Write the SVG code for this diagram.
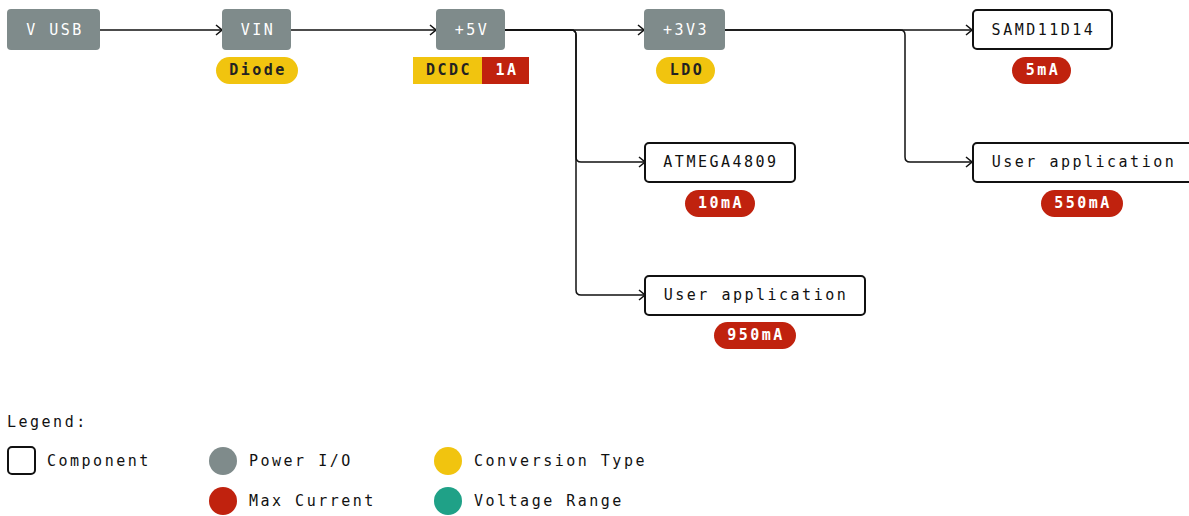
<svg xmlns="http://www.w3.org/2000/svg" width="1189" height="516" viewBox="0 0 1189 516">
<style>
text{font-family:"DejaVu Sans Mono","Liberation Mono",monospace;font-size:15px;letter-spacing:2.5px;text-anchor:middle}
.iob{fill:#7f8b8b}
.iot{fill:#fff}
.cb{fill:#fff;stroke:#111;stroke-width:2}
.ct{fill:#111}
.y{fill:#f1c40f}
.r{fill:#c0220e}
.g{fill:#7f8b8b}
.t{fill:#1fa187}
.py{fill:#222;font-weight:bold}
.pr{fill:#fff;font-weight:bold}
.leg{text-anchor:start;fill:#111}
#connectors path{fill:none;stroke:#111;stroke-width:1.5}
</style>
<defs>
<marker id="arr" markerUnits="userSpaceOnUse" markerWidth="8" markerHeight="12" refX="7" refY="6" orient="auto">
<path d="M1,1 L7,6 L1,11" fill="none" stroke="#111" stroke-width="1.5"/>
</marker>
</defs>
<rect width="1189" height="516" fill="#fff"/>
<g id="connectors">
<path d="M100,30 H222" marker-end="url(#arr)"/>
<path d="M291,30 H436" marker-end="url(#arr)"/>
<path d="M505,30 H644" marker-end="url(#arr)"/>
<path d="M505,30 H571 Q576,30 576,35 V157 Q576,162 581,162 H645" marker-end="url(#arr)"/>
<path d="M505,30 H571 Q576,30 576,35 V290 Q576,295 581,295 H645" marker-end="url(#arr)"/>
<path d="M725,30 H972" marker-end="url(#arr)"/>
<path d="M725,30 H900 Q905,30 905,35 V157 Q905,162 910,162 H972" marker-end="url(#arr)"/>
</g>
<g id="vusb"><rect class="iob" x="7" y="9" width="93" height="41" rx="4"/><text class="iot" x="55" y="35">V USB</text></g>
<g id="vin"><rect class="iob" x="222" y="9" width="69" height="41" rx="4"/><text class="iot" x="258" y="35">VIN</text>
<rect class="y" x="216" y="57" width="82" height="27" rx="13.5"/><text class="py" x="258" y="75">Diode</text></g>
<g id="v5"><rect class="iob" x="436" y="9" width="69" height="41" rx="4"/><text class="iot" x="472" y="35">+5V</text>
<rect class="y" x="413" y="57" width="69" height="27"/><rect class="r" x="482" y="57" width="47" height="27"/>
<text class="py" x="449" y="75">DCDC</text><text class="pr" x="507" y="75">1A</text></g>
<g id="v33"><rect class="iob" x="644" y="9" width="81" height="41" rx="4"/><text class="iot" x="686" y="35">+3V3</text>
<rect class="y" x="656" y="57" width="59" height="27" rx="13.5"/><text class="py" x="687" y="75">LDO</text></g>
<g id="samd"><rect class="cb" x="973" y="10" width="139" height="39" rx="4"/><text class="ct" x="1043.5" y="35">SAMD11D14</text>
<rect class="r" x="1012" y="57" width="59" height="27" rx="13.5"/><text class="pr" x="1043" y="75">5mA</text></g>
<g id="atmega"><rect class="cb" x="645" y="143" width="150" height="39" rx="4"/><text class="ct" x="721" y="167">ATMEGA4809</text>
<rect class="r" x="685" y="190" width="70" height="27" rx="13.5"/><text class="pr" x="721" y="208">10mA</text></g>
<g id="userapp1"><rect class="cb" x="645" y="276" width="220" height="39" rx="4"/><text class="ct" x="756" y="300">User application</text>
<rect class="r" x="714" y="322" width="82" height="27" rx="13.5"/><text class="pr" x="756" y="340">950mA</text></g>
<g id="userapp2"><rect class="cb" x="973" y="143" width="220" height="39" rx="4"/><text class="ct" x="1084" y="167">User application</text>
<rect class="r" x="1041" y="190" width="82" height="27" rx="13.5"/><text class="pr" x="1083" y="208">550mA</text></g>
<g id="legend">
<text class="leg" x="7" y="427">Legend:</text>
<rect x="8" y="447" width="27" height="27" rx="4" fill="#fff" stroke="#111" stroke-width="2"/>
<text class="leg" x="47" y="466">Component</text>
<circle class="g" cx="223" cy="461" r="14"/><text class="leg" x="249" y="466">Power I/O</text>
<circle class="r" cx="223" cy="501" r="14"/><text class="leg" x="249" y="506">Max Current</text>
<circle class="y" cx="448" cy="461" r="14"/><text class="leg" x="474" y="466">Conversion Type</text>
<circle class="t" cx="448" cy="501" r="14"/><text class="leg" x="474" y="506">Voltage Range</text>
</g>
</svg>
